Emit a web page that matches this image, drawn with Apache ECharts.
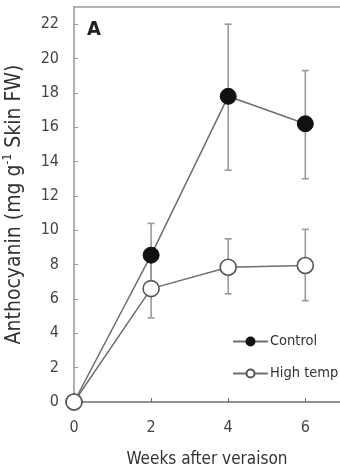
<!DOCTYPE html>
<html><head><meta charset="utf-8">
<script src="https://cdn.jsdelivr.net/npm/echarts@6/dist/echarts.min.js"></script>
<style>html,body{margin:0;padding:0;background:#fff}#c{width:340px;height:468px}</style>
</head><body><div id="c"></div>
<script>
const weeks = [0, 2, 4, 6];
const xTicks = [0, 2, 4, 6];
const controlMean = [0, 8.55, 17.8, 16.2];
const controlLow = [0, 6.7, 13.5, 13.0];
const controlHigh = [0, 10.4, 22.0, 19.3];
const hotMean = [0, 6.6, 7.85, 7.95];
const hotLow = [0, 4.9, 6.3, 5.9];
const hotHigh = [0, 8.3, 9.5, 10.05];

const FONT = '"DejaVu Sans Condensed","Liberation Sans Narrow","Liberation Sans",Arial,sans-serif';
const LINE = '#6e6e6e';
const ERR = '#9a9a9a';

function errData(low, high){ return weeks.map((w,i)=>[w, low[i], high[i]]); }
function errSeries(name, low, high){
  return {
    type:'custom', name: name+'_err', z:1, silent:true,
    data: errData(low, high),
    renderItem(params, api){
      const x = api.value(0);
      const lo = api.coord([x, api.value(1)]);
      const hi = api.coord([x, api.value(2)]);
      const w = 3.5;
      const st = {stroke: ERR, lineWidth: 1.6};
      return {type:'group', children:[
        {type:'line', shape:{x1:lo[0],y1:lo[1],x2:hi[0],y2:hi[1]}, style:st},
        {type:'line', shape:{x1:lo[0]-w,y1:lo[1],x2:lo[0]+w,y2:lo[1]}, style:st},
        {type:'line', shape:{x1:hi[0]-w,y1:hi[1],x2:hi[0]+w,y2:hi[1]}, style:st}
      ]};
    }
  };
}

const chart = echarts.init(document.getElementById('c'), null, {renderer:'canvas'});
chart.setOption({
  animation:false,
  textStyle:{fontFamily:FONT},
  grid:{left:74, right:0, top:7, bottom:66, containLabel:false, outerBoundsMode:'none'},
  legend:{
    orient:'vertical', left:227, top:329, itemGap:17,
    itemWidth:35, itemHeight:10,
    data:['Control','High temp'],
    textStyle:{fontFamily:FONT, fontSize:14.5, color:'#333', padding:[0,0,0,-3]},
    selectedMode:false
  },
  graphic:[{type:'text', left:87, top:20, style:{text:'A', font:'bold 20px '+FONT, fill:'#222'}}],
  xAxis:[{
    type:'value', min:0, max:6.9, interval:2,
    name:'Weeks after veraison', nameLocation:'middle', nameGap:49,
    nameTextStyle:{fontSize:17, color:'#333', fontFamily:FONT},
    axisLine:{lineStyle:{color:LINE, width:1.5}},
    axisTick:{inside:true, length:4, lineStyle:{color:LINE}},
    axisLabel:{fontSize:16, color:'#444', margin:18, showMaxLabel:false,
      formatter:v=> xTicks.includes(v) ? String(v) : ''},
    splitLine:{show:false}
  },{
    type:'value', position:'top', min:0, max:6.9,
    axisLine:{show:true, lineStyle:{color:'#999', width:1.5}},
    axisTick:{show:false}, axisLabel:{show:false}, splitLine:{show:false}
  }],
  yAxis:{
    type:'value', min:0, max:23, interval:2,
    name:'Anthocyanin (mg g{sup|-1} Skin FW)', nameLocation:'middle', nameGap:46,
    nameTextStyle:{fontSize:21, color:'#333', fontFamily:FONT,
      rich:{sup:{fontSize:12, verticalAlign:'bottom', padding:[0,0,14,0], color:'#333', fontFamily:FONT}}},
    axisLine:{show:true, lineStyle:{color:'#999', width:1.5}},
    axisTick:{inside:true, length:4, lineStyle:{color:'#999'}},
    axisLabel:{fontSize:16, color:'#444', margin:15, showMaxLabel:false},
    splitLine:{show:false}
  },
  series:[
    errSeries('Control', controlLow, controlHigh),
    errSeries('High temp', hotLow, hotHigh),
    {
      type:'line', name:'Control', z:3,
      data: weeks.map((w,i)=>[w, controlMean[i]]),
      symbol:'circle', symbolSize:16,
      lineStyle:{color:LINE, width:1.5},
      itemStyle:{color:'#111', borderColor:'#111', borderWidth:1}
    },
    {
      type:'line', name:'High temp', z:4,
      data: weeks.map((w,i)=>[w, hotMean[i]]),
      symbol:'circle', symbolSize:16,
      lineStyle:{color:LINE, width:1.5},
      itemStyle:{color:'#fff', borderColor:'#555', borderWidth:1.6}
    }
  ]
});
</script></body></html>
